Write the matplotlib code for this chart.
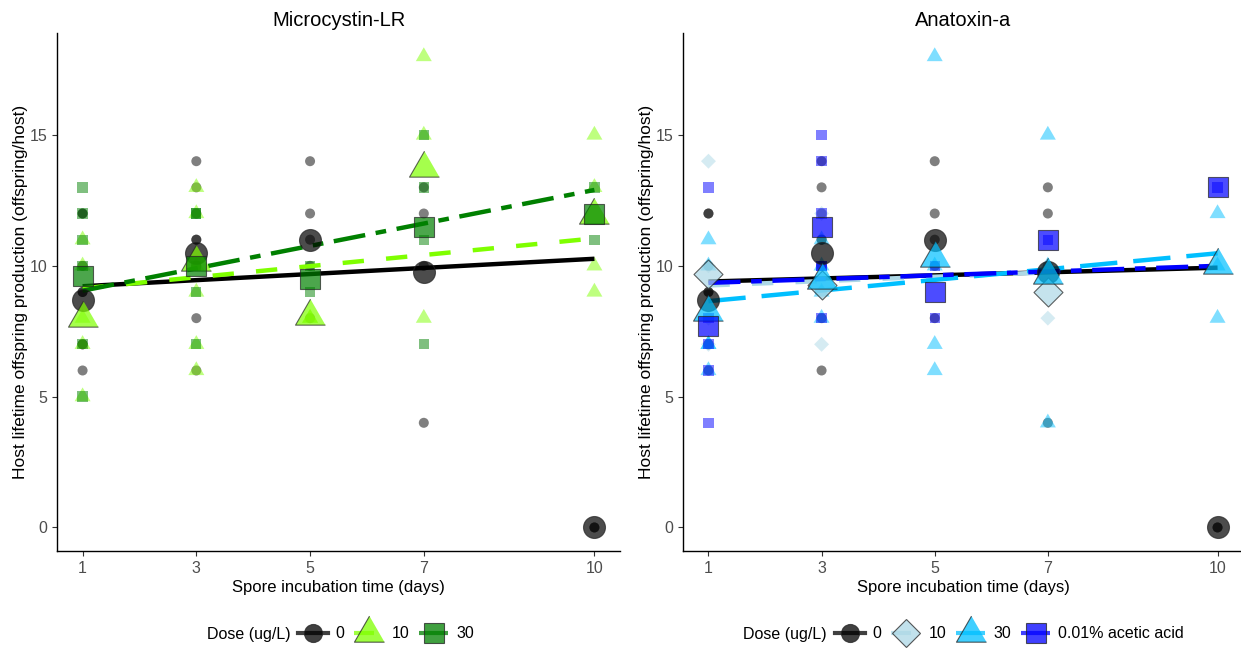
import matplotlib
matplotlib.use("Agg")
import matplotlib.pyplot as plt
from matplotlib.lines import Line2D
import numpy as np

plt.rcParams["font.family"] = ["Liberation Sans", "DejaVu Sans"]

# Spore incubation time (days)
days = [1, 3, 5, 7, 10]

# Raw host offspring counts, one list per day (dose 0 is shared by both panels)
ctrl_raw = [[12, 12, 10, 9, 9, 7, 7, 6], [14, 13, 12, 11, 11, 10, 8, 6],
            [14, 12, 11, 10, 8], [13, 12, 10, 4], [0, 0]]
ctrl_mean = [8.7, 10.5, 11.0, 9.75, 0.0]

# Microcystin-LR
mc10_raw = [[11, 10, 8, 7, 5], [13, 12, 10, 9, 7, 6], [8, 8], [18, 15, 8], [15, 13, 10, 9]]
mc10_mean = [8.0, 10.15, 8.1, 13.75, 11.95]
mc30_raw = [[13, 12, 11, 10, 7, 5], [12, 12, 10, 9, 7], [10, 9], [15, 13, 11, 7], [13, 11]]
mc30_mean = [9.6, 10.0, 9.5, 11.5, 12.0]

# Anatoxin-a
ax10_raw = [[14, 10, 8, 7], [12, 9, 9, 7], [], [10, 8], []]
ax10_mean = [9.7, 9.25, np.nan, 9.0, np.nan]
ax30_raw = [[11, 10, 7, 7, 6], [11, 10, 9, 8], [18, 10, 7, 6], [15, 10, 4], [12, 10, 8]]
ax30_mean = [8.25, 9.45, 10.3, 9.65, 10.05]
acid_raw = [[13, 8, 7, 6, 4], [15, 14, 12, 10, 10, 8], [10, 8], [11], [13]]
acid_mean = [7.7, 11.5, 9.0, 11.0, 13.0]

# Fitted lines: start/end x and fitted y
fit_full = [1, 10]
fit_short = [1, 7]
mc_ctrl_fit = [9.22, 10.27]
mc10_fit = [9.14, 11.05]
mc30_fit = [9.05, 12.9]
ax_ctrl_fit = [9.4, 9.93]
ax10_fit = [9.25, 9.75]
ax30_fit = [8.65, 10.48]
acid_fit = [9.35, 10.0]

dose_labels_mc = ["0", "10", "30"]
dose_labels_ax = ["0", "10", "30", "0.01% acetic acid"]

tri = [(0, 1), (-0.866, -0.5), (0.866, -0.5)]
DASHED = (4.8, 5.0)
TWODASH = (7.2, 2.4, 2.4, 2.4)
LONGDASH = (8.4, 3.6)

style_ctrl = dict(color="black", marker="o", s_raw=52, s_mean=250, ms=13, dash=None)

mc_series = [
    dict(raw=ctrl_raw, mean=ctrl_mean, fx=fit_full, fy=mc_ctrl_fit, **style_ctrl),
    dict(raw=mc10_raw, mean=mc10_mean, fx=fit_full, fy=mc10_fit, color="#7FFF00",
         marker=tri, s_raw=177, s_mean=620, ms=25, dash=DASHED),
    dict(raw=mc30_raw, mean=mc30_mean, fx=fit_full, fy=mc30_fit, color="#008000",
         marker="s", s_raw=55, s_mean=207, ms=15, dash=TWODASH),
]
ax_series = [
    dict(raw=ctrl_raw, mean=ctrl_mean, fx=fit_full, fy=ax_ctrl_fit, **style_ctrl),
    dict(raw=ax10_raw, mean=ax10_mean, fx=fit_short, fy=ax10_fit, color="#ADD8E6",
         marker="D", s_raw=58, s_mean=218, ms=14, dash=DASHED),
    dict(raw=ax30_raw, mean=ax30_mean, fx=fit_full, fy=ax30_fit, color="#00BFFF",
         marker=tri, s_raw=177, s_mean=620, ms=25, dash=LONGDASH),
    dict(raw=acid_raw, mean=acid_mean, fx=fit_full, fy=acid_fit, color="#0000FF",
         marker="s", s_raw=55, s_mean=207, ms=15, dash=TWODASH),
]


def draw_panel(ax, series, title):
    for s in series:
        xs = [d for d, vals in zip(days, s["raw"]) for _ in vals]
        ys = [v for vals in s["raw"] for v in vals]
        ax.scatter(xs, ys, marker=s["marker"], s=s["s_raw"], color=s["color"],
                   alpha=0.5, edgecolors="none", zorder=2)
    for s in series:
        ln, = ax.plot(s["fx"], s["fy"], color=s["color"], lw=3.2,
                      solid_capstyle="butt", zorder=3)
        if s["dash"] is not None:
            ln.set_dashes(s["dash"])
    for s in series:
        ax.scatter(days, s["mean"], marker=s["marker"], s=s["s_mean"],
                   facecolor=s["color"], alpha=0.7, edgecolors="#222222",
                   linewidths=0.8, zorder=4)
    ax.set_xlim(0.55, 10.45)
    ax.set_ylim(-0.9, 18.9)
    ax.set_xticks(days)
    ax.set_yticks([0, 5, 10, 15])
    for side in ["top", "right"]:
        ax.spines[side].set_visible(False)
    for side in ["left", "bottom"]:
        ax.spines[side].set_linewidth(1.0)
    ax.tick_params(colors="#333333", labelcolor="#4D4D4D", labelsize=11.5, length=3.5, width=0.8)
    ax.set_title(title, fontsize=14.5, pad=5)
    ax.set_xlabel("Spore incubation time (days)", fontsize=12)
    ax.set_ylabel("Host lifetime offspring production (offspring/host)", fontsize=12.5)
    ax.xaxis.set_label_coords(0.5, -0.056)
    ax.yaxis.set_label_coords(-0.052, 0.5)


def legend_handles(series):
    hs = []
    for s in series:
        h = Line2D([], [], color=s["color"], lw=3.0, marker=s["marker"], markersize=s["ms"],
                   markerfacecolor=s["color"], markeredgecolor="#222222",
                   markeredgewidth=0.8, alpha=0.75)
        if s["dash"] is not None:
            h.set_dashes(s["dash"])
        hs.append(h)
    return hs


fig = plt.figure(figsize=(12.41, 6.5), dpi=100)
ax1 = fig.add_axes([57 / 1241, 99 / 650, 563 / 1241, 518 / 650])
ax2 = fig.add_axes([683 / 1241, 99 / 650, 560 / 1241, 518 / 650])

draw_panel(ax1, mc_series, "Microcystin-LR")
draw_panel(ax2, ax_series, "Anatoxin-a")

leg_y = (650 - 634) / 650
fig.text(207 / 1241, leg_y, "Dose (ug/L)", fontsize=11.5, va="center", ha="left")
fig.legend(legend_handles(mc_series), dose_labels_mc, loc="center left",
           bbox_to_anchor=(298 / 1241, leg_y), ncol=3, frameon=False, fontsize=11.5,
           handlelength=1.85, handletextpad=0.5, columnspacing=0.6, borderpad=0, borderaxespad=0)
fig.text(743 / 1241, leg_y, "Dose (ug/L)", fontsize=11.5, va="center", ha="left")
fig.legend(legend_handles(ax_series), dose_labels_ax, loc="center left",
           bbox_to_anchor=(835 / 1241, leg_y), ncol=4, frameon=False, fontsize=11.5,
           handlelength=1.85, handletextpad=0.5, columnspacing=0.6, borderpad=0, borderaxespad=0)

fig.savefig("out.png", dpi=100)
